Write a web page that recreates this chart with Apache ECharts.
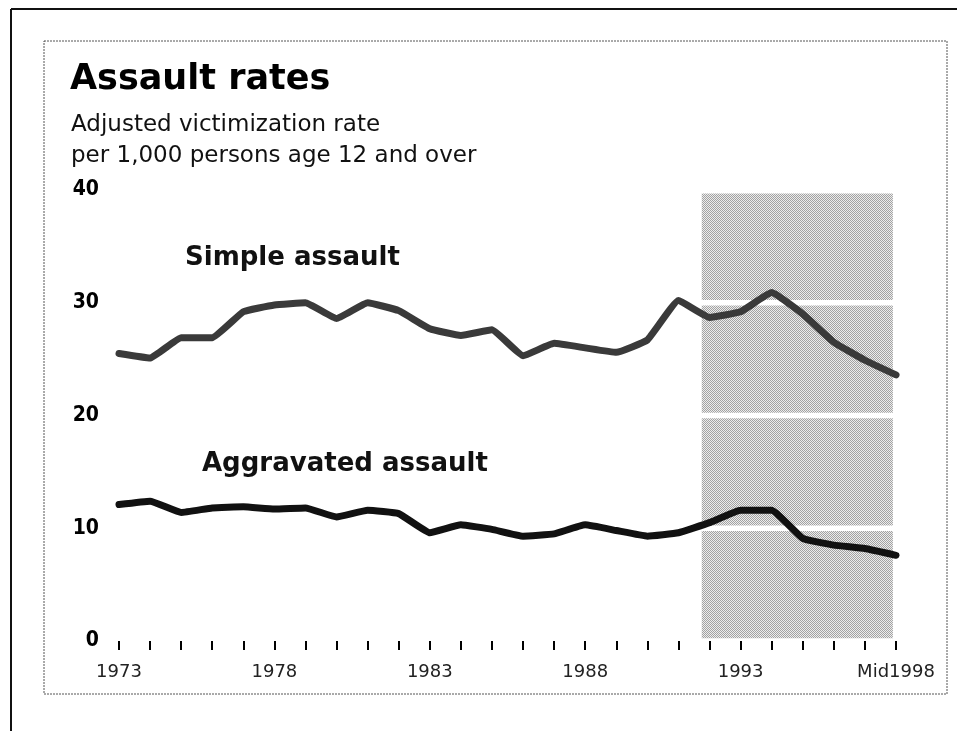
<!DOCTYPE html>
<html>
<head>
<meta charset="utf-8">
<title>Assault rates</title>
<script src="https://cdn.jsdelivr.net/npm/echarts@6/dist/echarts.min.js"></script>
<style>
  html, body { margin: 0; padding: 0; background: #fff; }
  #chart { width: 957px; height: 731px; }
</style>
</head>
<body>
<div id="chart"></div>
<script>
// data
const years = [1973, 1974, 1975, 1976, 1977, 1978, 1979, 1980, 1981, 1982, 1983, 1984, 1985,
  1986, 1987, 1988, 1989, 1990, 1991, 1992, 1993, 1994, 1995, 1996, 1997, 1998]
const simpleAssault = [25.5, 25.1, 26.9, 26.9, 29.2, 29.8, 30.0, 28.6, 30.0, 29.3, 27.7, 27.1, 27.6,
  25.3, 26.4, 26.0, 25.6, 26.7, 30.2, 28.7, 29.2, 30.9, 29.0, 26.5, 24.9, 23.6]
const aggravatedAssault = [12.1, 12.4, 11.4, 11.8, 11.9, 11.7, 11.8, 11.0, 11.6, 11.3, 9.6, 10.3, 9.9,
  9.3, 9.5, 10.3, 9.8, 9.3, 9.6, 10.5, 11.6, 11.6, 9.1, 8.5, 8.2, 7.6]
const labelYears = [1973, 1978, 1983, 1988, 1993, 1998]
const lastLabel = 'Mid1998'
const yTicks = [0, 10, 20, 30, 40]
// shaded period (redesign years)
const shadeFrom = 1991.75
const shadeTo = 1997.9

// halftone-ish fill for the shaded block
function makePattern () {
  const c = document.createElement('canvas')
  c.width = 2
  c.height = 2
  const ctx = c.getContext('2d')
  ctx.fillStyle = '#ececec'
  ctx.fillRect(0, 0, 2, 2)
  ctx.fillStyle = '#a2a2a2'
  ctx.fillRect(0, 0, 1, 1)
  ctx.fillRect(1, 1, 1, 1)
  return c
}
const shadeFill = { image: makePattern(), repeat: 'repeat' }

// bands between the white gridlines
const bands = []
for (let i = 0; i < yTicks.length - 1; i++) {
  bands.push([
    { xAxis: shadeFrom, yAxis: yTicks[i] + 0.25 },
    { xAxis: shadeTo, yAxis: yTicks[i + 1] - (i === yTicks.length - 2 ? 0.3 : 0.25) }
  ])
}

const chart = echarts.init(document.getElementById('chart'))
chart.setOption({
  animation: false,
  backgroundColor: '#fff',
  grid: { left: 119, right: 61, top: 190, bottom: 90 },
  xAxis: {
    type: 'value',
    min: 1973,
    max: 1998,
    interval: 1,
    axisLine: { show: false },
    splitLine: { show: false },
    axisTick: { show: true, length: 9, lineStyle: { color: '#000', width: 2 } },
    axisLabel: {
      margin: 22,
      fontFamily: 'DejaVu Sans',
      fontSize: 18,
      color: '#222',
      formatter: v => labelYears.includes(v) ? (v === 1998 ? lastLabel : String(v)) : ''
    }
  },
  yAxis: {
    type: 'value',
    min: 0,
    max: 40,
    interval: 10,
    axisLine: { show: false },
    axisTick: { show: false },
    splitLine: { show: false },
    axisLabel: {
      margin: 20,
      fontFamily: 'DejaVu Sans Condensed, DejaVu Sans',
      fontWeight: 'bold',
      fontSize: 21,
      color: '#000'
    }
  },
  graphic: [
    { type: 'line', shape: { x1: 11, y1: 9, x2: 957, y2: 9 }, style: { stroke: '#111', lineWidth: 2 } },
    { type: 'line', shape: { x1: 11, y1: 9, x2: 11, y2: 731 }, style: { stroke: '#111', lineWidth: 2 } },
    { type: 'rect', shape: { x: 44, y: 41, width: 903, height: 653 }, style: { fill: 'none', stroke: '#555', lineWidth: 1, lineDash: [2, 1] } },
    { type: 'text', x: 70, y: 80, style: { text: 'Assault rates', font: 'bold 35px "DejaVu Sans"', fill: '#000', textVerticalAlign: 'middle' } },
    { type: 'text', x: 71, y: 125, style: { text: 'Adjusted victimization rate', font: '23px "DejaVu Sans"', fill: '#111', textVerticalAlign: 'middle' } },
    { type: 'text', x: 71, y: 156, style: { text: 'per 1,000 persons age 12 and over', font: '23px "DejaVu Sans"', fill: '#111', textVerticalAlign: 'middle' } },
    { type: 'text', x: 185, y: 258, style: { text: 'Simple assault', font: 'bold 26px "DejaVu Sans"', fill: '#111', textVerticalAlign: 'middle' } },
    { type: 'text', x: 202, y: 464, style: { text: 'Aggravated assault', font: 'bold 26px "DejaVu Sans"', fill: '#111', textVerticalAlign: 'middle' } }
  ],
  series: [
    {
      type: 'line',
      name: 'shade',
      z: 1,
      silent: true,
      data: [],
      markArea: {
        silent: true,
        itemStyle: { color: shadeFill },
        data: bands
      }
    },
    {
      type: 'line',
      name: 'Simple assault',
      z: 3,
      smooth: 0.1,
      symbol: 'none',
      lineStyle: { color: '#3a3a3a', width: 7, join: 'round', cap: 'round' },
      data: years.map((y, i) => [y, simpleAssault[i]])
    },
    {
      type: 'line',
      name: 'Aggravated assault',
      z: 3,
      smooth: 0.1,
      symbol: 'none',
      lineStyle: { color: '#111', width: 7, join: 'round', cap: 'round' },
      data: years.map((y, i) => [y, aggravatedAssault[i]])
    }
  ]
})
</script>
</body>
</html>
